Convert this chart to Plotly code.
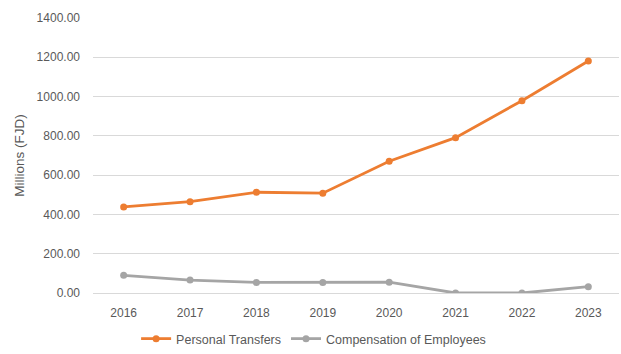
import plotly.graph_objects as go

years = ["2016", "2017", "2018", "2019", "2020", "2021", "2022", "2023"]
personal_transfers = [438, 465, 513, 508, 671, 791, 979, 1181]
compensation_of_employees = [90, 66, 54, 54, 55, 0, 0, 32]
y_ticks = [0, 200, 400, 600, 800, 1000, 1200, 1400]

ORANGE = "#ED7D31"
GREY = "#A5A5A5"
TEXT = "#595959"
FONT = "Liberation Sans"

fig = go.Figure()
fig.add_trace(go.Scatter(
    x=years, y=personal_transfers, name="Personal Transfers",
    mode="lines+markers",
    line=dict(color=ORANGE, width=2.8),
    marker=dict(color=ORANGE, size=7),
))
fig.add_trace(go.Scatter(
    x=years, y=compensation_of_employees, name="Compensation of Employees",
    mode="lines+markers",
    line=dict(color=GREY, width=2.8),
    marker=dict(color=GREY, size=7),
))

fig.update_layout(
    width=621, height=354,
    margin=dict(l=93, r=2, t=18, b=61, autoexpand=False),
    paper_bgcolor="white", plot_bgcolor="white",
    font=dict(family=FONT, size=12, color=TEXT),
    showlegend=True,
    legend=dict(
        orientation="h",
        xref="container", x=0.505, xanchor="center",
        yref="container", y=0.0, yanchor="bottom",
        font=dict(family=FONT, size=12.5, color=TEXT),
        itemwidth=30,
    ),
    xaxis=dict(
        type="category",
        showgrid=False, zeroline=False,
        showline=True, linecolor="#D9D9D9", linewidth=1,
        ticks="", ticklabelstandoff=9,
        tickfont=dict(family=FONT, size=12, color=TEXT),
        automargin=False,
    ),
    yaxis=dict(
        range=[0, 1400],
        tickvals=y_ticks,
        ticktext=[f"{v:.2f}" for v in y_ticks],
        showgrid=True, gridcolor="#D9D9D9", gridwidth=1,
        zeroline=False, showline=False,
        ticks="", ticklabelstandoff=12,
        tickfont=dict(family=FONT, size=12, color=TEXT),
        title=dict(text="Millions (FJD)", standoff=8,
                   font=dict(family=FONT, size=13.5, color=TEXT)),
        automargin=False,
    ),
)

fig.write_html("out.html")
